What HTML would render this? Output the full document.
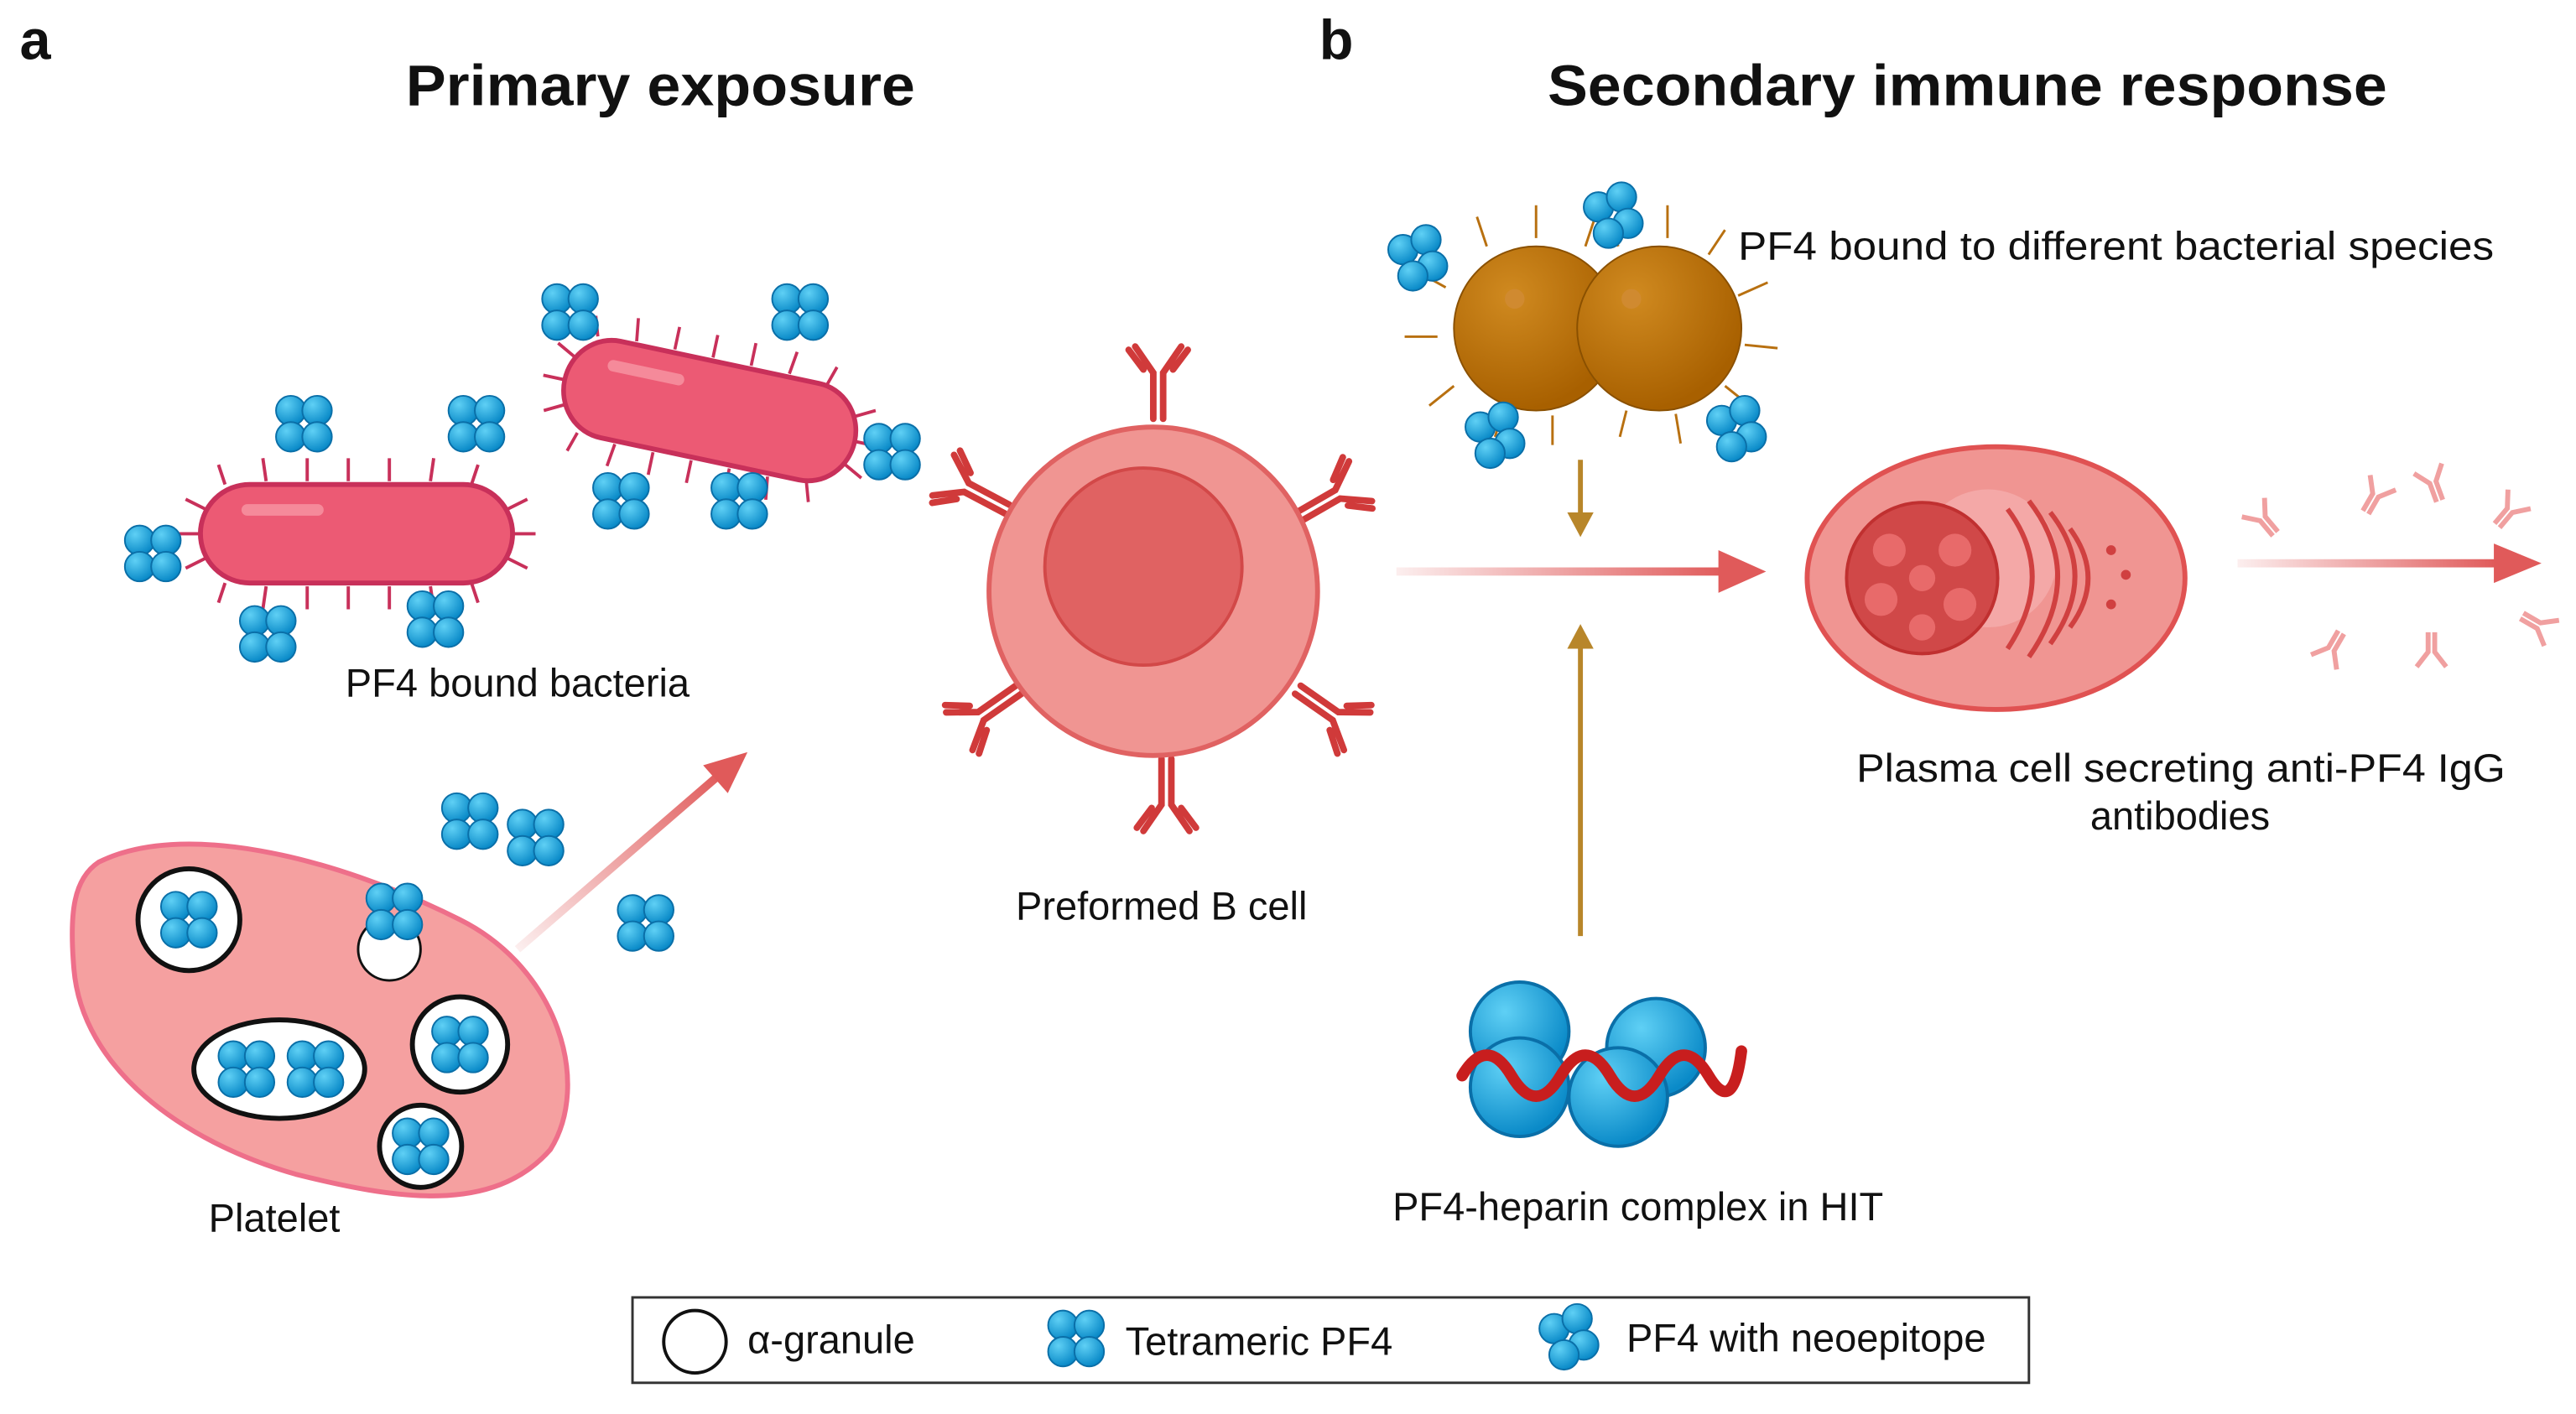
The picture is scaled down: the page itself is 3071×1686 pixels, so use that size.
<!DOCTYPE html>
<html><head><meta charset="utf-8"><style>
html,body{margin:0;padding:0;background:#fff;}
svg{display:block;}
text{font-family:"Liberation Sans",sans-serif;fill:#111;}
</style></head><body>
<svg width="3071" height="1686" viewBox="0 0 1568 861" preserveAspectRatio="none" xmlns="http://www.w3.org/2000/svg">
<defs>
<radialGradient id="bl" cx="0.35" cy="0.3" r="0.7"><stop offset="0" stop-color="#5fd0f5"/><stop offset="1" stop-color="#0a8ac8"/></radialGradient>
<radialGradient id="br" cx="0.35" cy="0.3" r="0.7"><stop offset="0" stop-color="#d08a20"/><stop offset="1" stop-color="#a86000"/></radialGradient>
<linearGradient id="ra" x1="0" x2="1"><stop offset="0" stop-color="#e05a5a" stop-opacity="0.1"/><stop offset="1" stop-color="#e05a5a"/></linearGradient>
<linearGradient id="rd" x1="0" y1="1" x2="1" y2="0"><stop offset="0" stop-color="#e05a5a" stop-opacity="0.1"/><stop offset="1" stop-color="#e05a5a"/></linearGradient>
<g id="t">
<circle cx="-8" cy="-8" r="9" fill="url(#bl)" stroke="#0a6fa8" stroke-width="1"/>
<circle cx="8" cy="-8" r="9" fill="url(#bl)" stroke="#0a6fa8" stroke-width="1"/>
<circle cx="-8" cy="8" r="9" fill="url(#bl)" stroke="#0a6fa8" stroke-width="1"/>
<circle cx="8" cy="8" r="9" fill="url(#bl)" stroke="#0a6fa8" stroke-width="1"/>
</g>
<g id="n">
<circle cx="-12" cy="-6" r="9" fill="url(#bl)" stroke="#0a6fa8"/>
<circle cx="2" cy="-12" r="9" fill="url(#bl)" stroke="#0a6fa8"/>
<circle cx="6" cy="4" r="9" fill="url(#bl)" stroke="#0a6fa8"/>
<circle cx="-6" cy="10" r="9" fill="url(#bl)" stroke="#0a6fa8"/>
</g>
<g id="y" stroke="#d03a3a" stroke-width="4" fill="none" stroke-linecap="round">
<path d="M-3 0 V-28 L-14 -44 M3 0 V-28 L14 -44 M-9 -30 L-18 -42 M9 -30 L18 -42"/>
</g>
<g id="ys" stroke="#f0a0a0" stroke-width="3" fill="none">
<path d="M-2 0 V-12 L-9 -21 M2 0 V-12 L9 -21"/>
</g>
<g id="bac">
<g stroke="#c8305a" stroke-width="2" fill="none">
<path d="M-80 -30 l-4 -12 M-55 -32 l-2 -14 M-30 -32 l0 -14 M-5 -32 l0 -14 M20 -32 l0 -14 M45 -32 l2 -14 M70 -30 l4 -12 M-80 30 l-4 12 M-55 32 l-2 14 M-30 32 l0 14 M-5 32 l0 14 M20 32 l0 14 M45 32 l2 14 M70 30 l4 12 M-95 0 l-14 0 M-92 -15 l-12 -6 M-92 15 l-12 6 M95 0 l14 0 M92 -15 l12 -6 M92 15 l12 6"/>
</g>
<rect x="-95" y="-30" width="190" height="60" rx="30" fill="#ec5a74" stroke="#c8305a" stroke-width="3"/>
<rect x="-70" y="-18" width="50" height="7" rx="3.5" fill="#f58a9a"/>
</g>
</defs>

<text x="12" y="36" font-size="34" font-weight="bold">a</text>
<text x="247" y="64" font-size="35" font-weight="bold" textLength="310" lengthAdjust="spacingAndGlyphs">Primary exposure</text>
<text x="803" y="36" font-size="34" font-weight="bold">b</text>
<text x="942" y="64" font-size="35" font-weight="bold" textLength="511" lengthAdjust="spacingAndGlyphs">Secondary immune response</text>

<use href="#bac" transform="translate(217,325)"/>
<use href="#bac" transform="translate(432,250) rotate(12) scale(0.95,1)"/>
<use href="#t" transform="translate(185,258)"/><use href="#t" transform="translate(290,258)"/>
<use href="#t" transform="translate(93,337)"/><use href="#t" transform="translate(163,386)"/>
<use href="#t" transform="translate(265,377)"/><use href="#t" transform="translate(347,190)"/>
<use href="#t" transform="translate(487,190)"/><use href="#t" transform="translate(378,305)"/>
<use href="#t" transform="translate(450,305)"/><use href="#t" transform="translate(543,275)"/>
<text x="315" y="424" font-size="24" text-anchor="middle">PF4 bound bacteria</text>

<use href="#y" transform="translate(705,255)"/>
<use href="#y" transform="translate(790,315) rotate(60)"/>
<use href="#y" transform="translate(790,420) rotate(125)"/>
<use href="#y" transform="translate(710,462) rotate(180)"/>
<use href="#y" transform="translate(620,420) rotate(-125)"/>
<use href="#y" transform="translate(613,310) rotate(-62)"/>
<circle cx="702" cy="360" r="100" fill="#f09592" stroke="#e06262" stroke-width="3"/>
<circle cx="696" cy="345" r="60" fill="#e06262" stroke="#d24848" stroke-width="2"/>
<text x="707" y="560" font-size="24" text-anchor="middle">Preformed B cell</text>

<path d="M60 525 C110 500 200 520 280 560 C340 590 360 660 335 700 C300 740 240 730 180 715 C110 695 50 650 45 590 C42 555 45 535 60 525Z" fill="#f5a0a0" stroke="#ee6f8a" stroke-width="3"/>
<circle cx="115" cy="560" r="31" fill="#fff" stroke="#111" stroke-width="3"/><use href="#t" transform="translate(115,560)"/>
<circle cx="237" cy="578" r="19" fill="#fff" stroke="#111" stroke-width="1.5"/><use href="#t" transform="translate(240,555)"/>
<ellipse cx="170" cy="651" rx="52" ry="30" fill="#fff" stroke="#111" stroke-width="3"/><use href="#t" transform="translate(150,651)"/><use href="#t" transform="translate(192,651)"/>
<circle cx="280" cy="636" r="29" fill="#fff" stroke="#111" stroke-width="3"/><use href="#t" transform="translate(280,636)"/>
<circle cx="256" cy="698" r="25" fill="#fff" stroke="#111" stroke-width="3"/><use href="#t" transform="translate(256,698)"/>
<use href="#t" transform="translate(286,500)"/><use href="#t" transform="translate(326,510)"/><use href="#t" transform="translate(393,562)"/>
<text x="167" y="750" font-size="24" text-anchor="middle">Platelet</text>
<path d="M315 578 L440 470" stroke="url(#rd)" stroke-width="5"/>
<polygon points="455,458 428,466 443,483" fill="#e05a5a"/>

<g stroke="#b87010" stroke-width="1.5" fill="none">
<path d="M880 175 l-18 -10 M875 205 l-20 0 M885 235 l-15 12 M905 150 l-6 -18 M935 145 l0 -20 M965 150 l6 -18 M915 250 l-5 16 M945 253 l0 18 M985 150 l-6 -18 M1015 145 l0 -20 M1040 155 l10 -15 M1058 180 l18 -8 M1062 210 l20 2 M1050 235 l15 12 M1020 252 l3 18 M990 250 l-4 16"/>
</g>
<circle cx="935" cy="200" r="50" fill="url(#br)" stroke="#8a5000"/>
<circle cx="1010" cy="200" r="50" fill="url(#br)" stroke="#8a5000"/>
<circle cx="922" cy="182" r="6" fill="#d08a30"/><circle cx="993" cy="182" r="6" fill="#d08a30"/>
<use href="#n" transform="translate(866,158)"/><use href="#n" transform="translate(985,132)"/>
<use href="#n" transform="translate(913,266)"/><use href="#n" transform="translate(1060,262)"/>
<text x="1058" y="158" font-size="24" textLength="460" lengthAdjust="spacingAndGlyphs">PF4 bound to different bacterial species</text>
<path d="M962 280 V315" stroke="#b8862a" stroke-width="3"/><polygon points="954,312 970,312 962,327" fill="#b8862a"/>
<path d="M962 570 V392" stroke="#b8862a" stroke-width="3"/><polygon points="954,395 970,395 962,380" fill="#b8862a"/>

<rect x="850" y="345.5" width="200" height="5" fill="url(#ra)"/>
<polygon points="1075,348 1046,335 1046,361" fill="#e05a5a"/>

<ellipse cx="1215" cy="352" rx="115" ry="80" fill="#f09592" stroke="#e05252" stroke-width="3"/>
<circle cx="1210" cy="340" r="42" fill="#f5b0b0" opacity="0.7"/>
<g stroke="#d04040" stroke-width="3" fill="none">
<path d="M1222 310 q30 40 0 85 M1235 305 q35 45 0 95 M1248 312 q30 38 0 80 M1260 322 q22 30 0 60"/>
</g>
<circle cx="1285" cy="335" r="3" fill="#d04040"/><circle cx="1294" cy="350" r="3" fill="#d04040"/><circle cx="1285" cy="368" r="3" fill="#d04040"/>
<circle cx="1170" cy="352" r="46" fill="#d04848" stroke="#c03030" stroke-width="2"/>
<g fill="#e86a6a"><circle cx="1150" cy="335" r="10"/><circle cx="1190" cy="335" r="10"/><circle cx="1145" cy="365" r="10"/><circle cx="1193" cy="368" r="10"/><circle cx="1170" cy="382" r="8"/><circle cx="1170" cy="352" r="8"/></g>
<text x="1130" y="476" font-size="24" textLength="395" lengthAdjust="spacingAndGlyphs">Plasma cell secreting anti-PF4 IgG</text>
<text x="1327" y="505" font-size="24" text-anchor="middle">antibodies</text>
<rect x="1362" y="340.5" width="158" height="5" fill="url(#ra)"/>
<polygon points="1547,343 1518,331 1518,355" fill="#e05a5a"/>
<use href="#ys" transform="translate(1385,325) rotate(-40)"/>
<use href="#ys" transform="translate(1440,312) rotate(30)"/>
<use href="#ys" transform="translate(1485,305) rotate(-20)"/>
<use href="#ys" transform="translate(1520,320) rotate(40)"/>
<use href="#ys" transform="translate(1425,385) rotate(-150)"/>
<use href="#ys" transform="translate(1480,385) rotate(180)"/>
<use href="#ys" transform="translate(1535,375) rotate(120)"/>

<circle cx="925" cy="628" r="30" fill="url(#bl)" stroke="#0a6fa8" stroke-width="2"/>
<circle cx="1008" cy="638" r="30" fill="url(#bl)" stroke="#0a6fa8" stroke-width="2"/>
<circle cx="925" cy="662" r="30" fill="url(#bl)" stroke="#0a6fa8" stroke-width="2"/>
<circle cx="985" cy="668" r="30" fill="url(#bl)" stroke="#0a6fa8" stroke-width="2"/>
<path d="M890 655 q15 -25 30 0 t30 0 t30 0 t30 0 t30 0 t20 -15" stroke="#c81e1e" stroke-width="7" fill="none" stroke-linecap="round"/>
<text x="997" y="743" font-size="24" text-anchor="middle">PF4-heparin complex in HIT</text>

<rect x="385" y="790" width="850" height="52" fill="#fff" stroke="#333" stroke-width="1.5"/>
<circle cx="423" cy="817" r="19" fill="#fff" stroke="#111" stroke-width="2"/>
<text x="455" y="824" font-size="24">α-granule</text>
<use href="#t" transform="translate(655,815)"/>
<text x="685" y="825" font-size="24">Tetrameric PF4</text>
<use href="#n" transform="translate(958,815)"/>
<text x="990" y="823" font-size="24">PF4 with neoepitope</text>
</svg>
</body></html>
